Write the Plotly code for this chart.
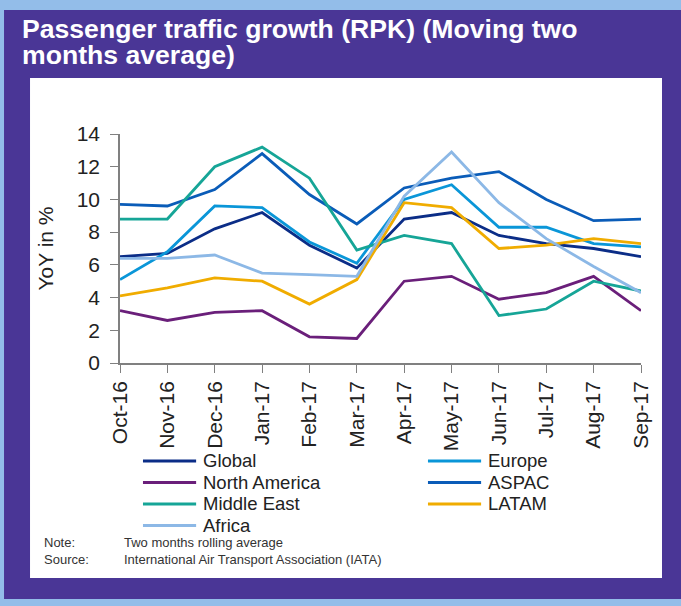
import plotly.graph_objects as go

months = ["Oct-16", "Nov-16", "Dec-16", "Jan-17", "Feb-17", "Mar-17",
          "Apr-17", "May-17", "Jun-17", "Jul-17", "Aug-17", "Sep-17"]

global_rpk = [6.5, 6.7, 8.2, 9.2, 7.2, 5.8, 8.8, 9.2, 7.8, 7.3, 7.0, 6.5]
europe = [5.1, 6.8, 9.6, 9.5, 7.4, 6.1, 10.0, 10.9, 8.3, 8.3, 7.3, 7.1]
north_america = [3.2, 2.6, 3.1, 3.2, 1.6, 1.5, 5.0, 5.3, 3.9, 4.3, 5.3, 3.2]
aspac = [9.7, 9.6, 10.6, 12.8, 10.3, 8.5, 10.7, 11.3, 11.7, 10.0, 8.7, 8.8]
middle_east = [8.8, 8.8, 12.0, 13.2, 11.3, 6.9, 7.8, 7.3, 2.9, 3.3, 5.0, 4.4]
latam = [4.1, 4.6, 5.2, 5.0, 3.6, 5.1, 9.8, 9.5, 7.0, 7.2, 7.6, 7.3]
africa = [6.4, 6.4, 6.6, 5.5, 5.4, 5.3, 10.2, 12.9, 9.8, 7.6, 5.9, 4.3]

FONT = "Liberation Sans, Arial, sans-serif"
PURPLE = "#4a3696"
TEXT = "#222222"

# name, values, colour, legend column, legend row
series = [
    ("Global", global_rpk, "#0b2d87", 0, 0),
    ("Europe", europe, "#0a96d8", 1, 0),
    ("North America", north_america, "#6a1f7a", 0, 1),
    ("ASPAC", aspac, "#0a5cb8", 1, 1),
    ("Middle East", middle_east, "#16a597", 0, 2),
    ("LATAM", latam, "#f0ac00", 1, 2),
    ("Africa", africa, "#8cb8e6", 0, 3),
]

fig = go.Figure()
for name, vals, color, col, row in series:
    fig.add_trace(go.Scatter(x=months, y=vals, name=name, mode="lines",
                             line=dict(color=color, width=2.8), showlegend=False))
    # two-column legend drawn below the chart
    lx = 0.0441 + col * 0.547
    ly = -0.4279 - row * 0.0939
    fig.add_shape(type="line", xref="paper", yref="paper", x0=lx, x1=lx + 0.102,
                  y0=ly, y1=ly, line=dict(color=color, width=2.8))
    fig.add_annotation(text=name, xref="paper", yref="paper", x=lx + 0.111, y=ly,
                       xanchor="left", yanchor="middle", showarrow=False,
                       font=dict(family=FONT, size=18.5, color=TEXT))

# background panels
fig.add_shape(type="rect", xref="paper", yref="paper", x0=-0.2226, x1=1.1,
              y0=-1.0306, y1=1.5415, fillcolor=PURPLE, line_width=0, layer="below")
fig.add_shape(type="rect", xref="paper", yref="paper", x0=-0.1727, x1=1.0403,
              y0=-0.9389, y1=1.2445, fillcolor="white", line_width=0, layer="below")

fig.add_annotation(text="<b>Passenger traffic growth (RPK) (Moving two</b>",
                   xref="paper", yref="paper", x=-0.192, y=1.4585,
                   xanchor="left", yanchor="middle", showarrow=False,
                   font=dict(family=FONT, size=26.6, color="white"))
fig.add_annotation(text="<b>months average)</b>",
                   xref="paper", yref="paper", x=-0.192, y=1.345,
                   xanchor="left", yanchor="middle", showarrow=False,
                   font=dict(family=FONT, size=26.6, color="white"))

fig.add_annotation(text="Note:<br>Source:", xref="paper", yref="paper",
                   x=-0.1497, y=-0.821, xanchor="left", yanchor="middle",
                   align="left", showarrow=False,
                   font=dict(family=FONT, size=13, color="#333333"))
fig.add_annotation(text="Two months rolling average<br>International Air Transport Association (IATA)",
                   xref="paper", yref="paper", x=0.0038, y=-0.821, xanchor="left",
                   yanchor="middle", align="left", showarrow=False,
                   font=dict(family=FONT, size=13, color="#333333"))

fig.update_xaxes(type="category", range=[0, 11], showline=True, linecolor="#808080",
                 linewidth=1.5, ticks="outside", ticklen=8, tickcolor="#808080",
                 tickangle=-90, showgrid=False, zeroline=False,
                 tickfont=dict(family=FONT, size=21, color=TEXT))
fig.update_yaxes(range=[0, 14], dtick=2, showline=True, linecolor="#808080",
                 linewidth=1.5, ticks="outside", ticklen=8, tickcolor="#808080",
                 ticklabelstandoff=6, showgrid=False, zeroline=False,
                 title=dict(text="YoY in %", standoff=17,
                            font=dict(family=FONT, size=21, color=TEXT)),
                 tickfont=dict(family=FONT, size=21, color=TEXT))

fig.update_layout(
    width=681, height=606,
    margin=dict(l=120, r=40, t=134, b=243, autoexpand=False),
    paper_bgcolor="#93bde9", plot_bgcolor="white",
    showlegend=False,
)

# drop the browser's default page margin so the figure sits at the window corner
fig.write_html("out.html", config={"displayModeBar": False},
               post_script="document.body.style.margin='0';")
